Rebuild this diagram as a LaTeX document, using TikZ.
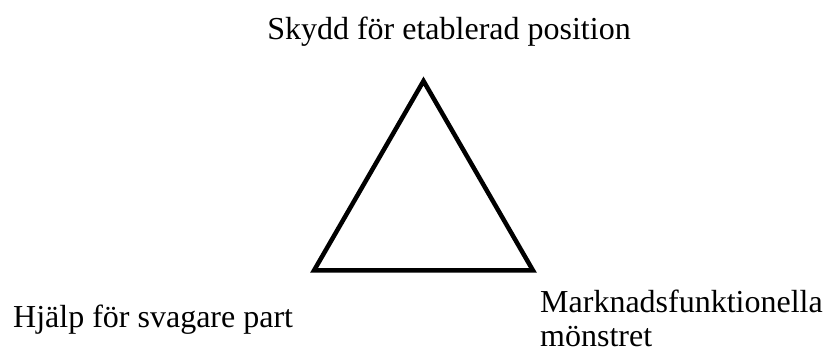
\documentclass[tikz,border=0pt]{standalone}
\usepackage{fontspec}
\setmainfont{Liberation Serif}
\begin{document}
\begin{tikzpicture}[x=1pt,y=1pt,
  lbl/.style={inner sep=0pt,font=\fontsize{32}{34}\selectfont}]
\useasboundingbox (0,0) rectangle (825,350);
\coordinate (top) at (423.5,269);
\coordinate (bl) at (314,79.5);
\coordinate (br) at (533,79.5);
\draw[line width=4.5pt,line join=miter] (top) -- (bl) -- (br) -- cycle;
\node[lbl,anchor=base] (t1) at (449,310.5) {Skydd för etablerad position};
\node[lbl,anchor=base west] (t2) at (13,22) {Hjälp för svagare part};
\node[lbl,anchor=base west,align=left] (t3) at (540,3) {Marknadsfunktionella\\mönstret};
\end{tikzpicture}
\end{document}
